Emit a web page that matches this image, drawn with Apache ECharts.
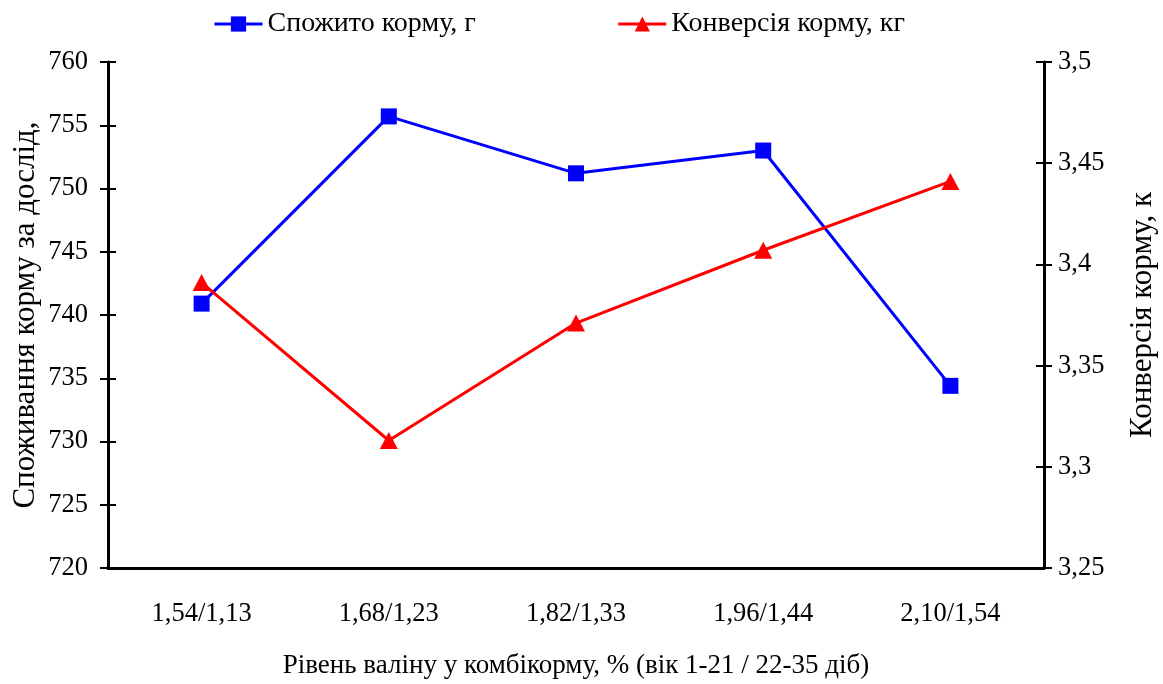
<!DOCTYPE html>
<html>
<head>
<meta charset="utf-8">
<script src="https://cdn.jsdelivr.net/npm/echarts@6/dist/echarts.min.js"></script>
<style>
  html, body { margin: 0; padding: 0; background: #fff; }
  #chart { width: 1163px; height: 684px; }
</style>
</head>
<body>
<div id="chart"></div>
<script>
const categories = ["1,54/1,13", "1,68/1,23", "1,82/1,33", "1,96/1,44", "2,10/1,54"];
const feedEaten = [740.9, 755.7, 751.2, 753.0, 734.4];
const feedConversion = [3.391, 3.313, 3.371, 3.407, 3.441];
const seriesNames = ["Спожито корму, г", "Конверсія корму, кг"];
const leftTicks = [720, 760, 5];
const rightTicks = [3.25, 3.5, 0.05];

const font = "'Liberation Serif', 'DejaVu Serif', serif";
const fmtComma = v => String(+v.toFixed(2)).replace(".", ",");

const chart = echarts.init(document.getElementById("chart"));

const baseY = (min, max, interval, position, inside) => ({
  type: "value",
  min: min,
  max: max,
  interval: interval,
  position: position,
  splitLine: { show: false },
  axisLine: { show: true, lineStyle: { color: "#000", width: 3 } },
  axisTick: { show: true, inside: inside, length: 8, lineStyle: { color: "#000", width: 2 } },
  axisLabel: { show: false }
});

const option = {
  animation: false,
  textStyle: { fontFamily: font, color: "#000" },
  grid: { left: 108, right: 119, top: 62, bottom: 116, outerBoundsMode: "none" },
  legend: {
    data: seriesNames,
    top: 5,
    left: 208,
    itemWidth: 48,
    itemHeight: 19,
    itemGap: 141,
    lineStyle: { width: 3 },
    textStyle: { fontFamily: font, fontSize: 28, color: "#000" }
  },
  xAxis: [
    {
      type: "category",
      data: categories,
      boundaryGap: true,
      name: "Рівень валіну у комбікорму, % (вік 1-21 / 22-35 діб)",
      nameLocation: "middle",
      nameGap: 84,
      nameTextStyle: { fontFamily: font, fontSize: 27, color: "#000" },
      axisLine: { lineStyle: { color: "#000", width: 3 } },
      axisTick: { length: 7, lineStyle: { color: "#000", width: 2 } },
      axisLabel: { fontFamily: font, fontSize: 26.5, color: "#000", margin: 33 },
      splitLine: { show: false }
    },
    {
      type: "category",
      data: categories,
      boundaryGap: true,
      position: "bottom",
      axisLine: { show: false },
      axisTick: { inside: true, length: 7, lineStyle: { color: "#000", width: 2 } },
      axisLabel: { show: false }
    }
  ],
  yAxis: [
    Object.assign(baseY(leftTicks[0], leftTicks[1], leftTicks[2], "left", false), {
      name: "Споживання корму за дослід,",
      nameLocation: "middle",
      nameGap: 67,
      nameMoveOverlap: false,
      nameRotate: 90,
      nameTextStyle: { fontFamily: font, fontSize: 31, color: "#000" },
      axisLabel: { show: true, fontFamily: font, fontSize: 26.5, color: "#000", margin: 20 }
    }),
    Object.assign(baseY(rightTicks[0], rightTicks[1], rightTicks[2], "right", false), {
      name: "Конверсія корму, к",
      nameLocation: "middle",
      nameGap: 83,
      nameMoveOverlap: false,
      nameRotate: 90,
      nameTextStyle: { fontFamily: font, fontSize: 31, color: "#000" },
      axisLabel: { show: true, fontFamily: font, fontSize: 26.5, color: "#000", margin: 14, formatter: fmtComma }
    }),
    Object.assign(baseY(leftTicks[0], leftTicks[1], leftTicks[2], "left", true), { axisLine: { show: false } }),
    Object.assign(baseY(rightTicks[0], rightTicks[1], rightTicks[2], "right", true), { axisLine: { show: false } })
  ],
  series: [
    {
      name: seriesNames[0],
      type: "line",
      data: feedEaten,
      yAxisIndex: 0,
      symbol: "rect",
      symbolSize: 16,
      z: 3,
      itemStyle: { color: "#0000ff" },
      lineStyle: { color: "#0000ff", width: 3 }
    },
    {
      name: seriesNames[1],
      type: "line",
      data: feedConversion,
      yAxisIndex: 1,
      symbol: "triangle",
      symbolSize: [18, 17],
      z: 4,
      itemStyle: { color: "#ff0000" },
      lineStyle: { color: "#ff0000", width: 3 }
    }
  ]
};

chart.setOption(option);
</script>
</body>
</html>
